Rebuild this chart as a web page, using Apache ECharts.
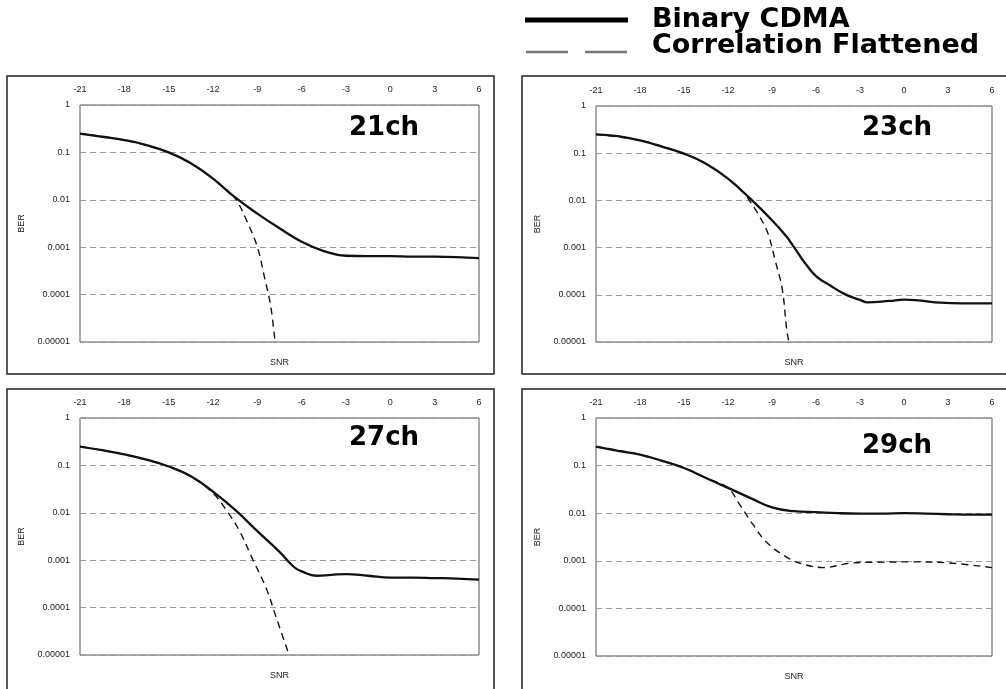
<!DOCTYPE html>
<html>
<head>
<meta charset="utf-8">
<title>BER vs SNR</title>
<script src="https://cdn.jsdelivr.net/npm/echarts@6/dist/echarts.min.js"></script>
<style>
  html, body { margin: 0; padding: 0; background: #fff; }
  #main { width: 1006px; height: 689px; }
</style>
</head>
<body>
<div id="main"></div>
<script>
// tick labels
var snrMin = -21, snrMax = 6, snrStep = 3;
var berTicks = ['0.00001', '0.0001', '0.001', '0.01', '0.1', '1'];
var panelNames = ['21ch', '23ch', '27ch', '29ch'];
var seriesNames = ['Binary CDMA', 'Correlation Flattened'];

// 21ch
var snr21 = [-21, -19.5, -18, -16.5, -15, -13.5, -12, -10.5, -9, -7.5, -6, -4.5, -3, -1.5, 0, 1.5, 3, 4.5, 6];
var ber21 = [0.25, 0.214, 0.182, 0.143, 0.1, 0.059, 0.028, 0.0112, 0.0051, 0.0025, 0.0013, 0.00083, 0.00066, 0.00065, 0.00065, 0.00063, 0.00063, 0.00062, 0.00059];
var snr21f = [-21, -18, -15, -13.5, -12, -11.5, -10.5, -9.7, -9.0, -8.5, -8.1, -7.8];
var ber21f = [0.25, 0.182, 0.1, 0.059, 0.028, 0.0204, 0.0107, 0.0035, 0.00102, 0.00022, 0.000059, 0.00001];

// 23ch
var snr23 = [-21, -19.5, -18, -16.5, -15, -13.5, -12, -10.5, -9, -8, -7.5, -6.7, -6, -5, -4, -3, -2.5, -1, 0, 1, 2.5, 4, 6];
var ber23 = [0.25, 0.229, 0.186, 0.138, 0.098, 0.06, 0.0288, 0.011, 0.0038, 0.0017, 0.00102, 0.00045, 0.00025, 0.000155, 0.000102, 0.000078, 0.000069, 0.000074, 0.000079, 0.000076, 0.000068, 0.000066, 0.000066];
var snr23f = [-21, -18, -15, -13.5, -12, -11, -10.7, -10.0, -9.3, -8.8, -8.3, -8.0, -7.85];
var ber23f = [0.25, 0.186, 0.098, 0.06, 0.0288, 0.0151, 0.0117, 0.0055, 0.0021, 0.00056, 0.000132, 0.0000186, 0.00001];

// 27ch
var snr27 = [-21, -19.5, -18, -16.5, -15, -13.5, -12, -10.5, -9, -7.5, -6.5, -6, -5, -4, -3, -1.5, 0, 1.5, 3, 4.5, 6];
var ber27 = [0.25, 0.209, 0.17, 0.132, 0.095, 0.059, 0.028, 0.0115, 0.0041, 0.0015, 0.00071, 0.00058, 0.00047, 0.00049, 0.00051, 0.00047, 0.00043, 0.00043, 0.00042, 0.00041, 0.00039];
var snr27f = [-21, -18, -15, -13.5, -12, -11.1, -10.2, -9.3, -8.4, -7.7, -6.85];
var ber27f = [0.25, 0.17, 0.095, 0.059, 0.026, 0.0115, 0.0041, 0.00102, 0.000257, 0.000059, 0.00001];

// 29ch
var snr29 = [-21, -19.5, -18, -16.5, -15, -13.5, -12, -10.5, -9, -7.5, -6, -4.5, -3, -1.5, 0, 1.5, 3, 4.5, 6];
var ber29 = [0.25, 0.204, 0.17, 0.126, 0.089, 0.055, 0.034, 0.021, 0.0132, 0.011, 0.0105, 0.01, 0.0098, 0.0098, 0.01, 0.0098, 0.0095, 0.0093, 0.0093];
var snr29f = [-21, -18, -15, -13.5, -12, -11.2, -10.3, -9.4, -8.2, -7.1, -5.5, -3.7, -2.1, 0.8, 3.3, 6];
var ber29f = [0.25, 0.17, 0.089, 0.055, 0.034, 0.0151, 0.0058, 0.0025, 0.0013, 0.00089, 0.00072, 0.00089, 0.00093, 0.00095, 0.00089, 0.00072];

var curves = [
  [snr21, ber21, snr21f, ber21f],
  [snr23, ber23, snr23f, ber23f],
  [snr27, ber27, snr27f, ber27f],
  [snr29, ber29, snr29f, ber29f]
];

function zip(xs, ys) {
  var out = [];
  for (var i = 0; i < xs.length; i++) out.push([xs[i], ys[i]]);
  return out;
}

// plot areas and outer frames, in px
var grids = [
  { left: 80, top: 105, width: 399, height: 237 },
  { left: 596, top: 106, width: 396, height: 236 },
  { left: 80, top: 418, width: 399, height: 237 },
  { left: 596, top: 418, width: 396, height: 238 }
];
var frames = [
  { x: 7, y: 76, width: 487, height: 298 },
  { x: 522, y: 76, width: 500, height: 298 },
  { x: 7, y: 389, width: 487, height: 320 },
  { x: 522, y: 389, width: 500, height: 320 }
];
var titlePos = [[349, 128], [862, 128], [349, 438], [862, 446]];

var font = '"Liberation Sans", Arial, sans-serif';
var boldFont = '"DejaVu Sans", Verdana, sans-serif';

var option = {
  animation: false,
  backgroundColor: '#fff',
  grid: [],
  xAxis: [],
  yAxis: [],
  series: [],
  graphic: []
};

for (var p = 0; p < 4; p++) {
  option.grid.push({
    left: grids[p].left, top: grids[p].top,
    width: grids[p].width, height: grids[p].height,
    show: true, borderColor: '#555', borderWidth: 1
  });
  // tick axis on top
  option.xAxis.push({
    gridIndex: p, type: 'value', position: 'top',
    min: snrMin, max: snrMax, interval: snrStep,
    axisLine: { show: false }, axisTick: { show: false }, splitLine: { show: false },
    axisLabel: { fontSize: 9, color: '#222', margin: 11, fontFamily: font }
  });
  // bottom axis only carries the SNR name
  option.xAxis.push({
    gridIndex: p, type: 'value', position: 'bottom',
    min: snrMin, max: snrMax,
    name: 'SNR', nameLocation: 'middle', nameGap: 16,
    nameTextStyle: { fontSize: 9, color: '#222', fontFamily: font },
    axisLine: { show: false }, axisTick: { show: false }, splitLine: { show: false },
    axisLabel: { show: false }
  });
  option.yAxis.push({
    gridIndex: p, type: 'log', logBase: 10, min: 0.00001, max: 1,
    name: 'BER', nameLocation: 'middle', nameRotate: 90, nameGap: 54,
    nameTextStyle: { fontSize: 9, color: '#222', fontFamily: font },
    axisLine: { show: false }, axisTick: { show: false },
    axisLabel: {
      fontSize: 9, color: '#222', margin: 10, fontFamily: font,
      formatter: function (v) {
        var k = Math.round(Math.log(v) / Math.LN10) + 5;
        return berTicks[k] || '';
      }
    },
    splitLine: { show: true, lineStyle: { color: '#9a9a9a', width: 1, type: [6, 4] } }
  });

  var c = curves[p];
  option.series.push({
    name: seriesNames[0], type: 'line', xAxisIndex: p * 2, yAxisIndex: p,
    data: zip(c[0], c[1]), showSymbol: false, smooth: 0.45, z: 3,
    lineStyle: { color: '#111', width: 2.3 }
  });
  option.series.push({
    name: seriesNames[1], type: 'line', xAxisIndex: p * 2, yAxisIndex: p,
    data: zip(c[2], c[3]), showSymbol: false, smooth: 0.35, z: 2,
    lineStyle: { color: '#111', width: 1.4, type: [7, 5] }
  });

  option.graphic.push({
    type: 'rect', silent: true,
    shape: frames[p],
    style: { fill: 'none', stroke: '#222', lineWidth: 1.5 }
  });
  option.graphic.push({
    type: 'text', x: titlePos[p][0], y: titlePos[p][1],
    style: {
      text: panelNames[p], fill: '#000', font: 'bold 26px ' + boldFont,
      textVerticalAlign: 'middle'
    }
  });
}

// legend drawn by hand, above the right column
option.graphic.push(
  { type: 'line', shape: { x1: 525, y1: 20, x2: 628, y2: 20 }, style: { stroke: '#000', lineWidth: 5 } },
  { type: 'line', shape: { x1: 526, y1: 52, x2: 628, y2: 52 }, style: { stroke: '#777', lineWidth: 2.5, lineDash: [42, 17] } },
  { type: 'text', x: 652, y: 20, style: { text: seriesNames[0], fill: '#000', font: 'bold 27px ' + boldFont, textVerticalAlign: 'middle' } },
  { type: 'text', x: 652, y: 46, style: { text: seriesNames[1], fill: '#000', font: 'bold 27px ' + boldFont, textVerticalAlign: 'middle' } }
);

var myChart = echarts.init(document.getElementById('main'));
myChart.setOption(option);
</script>
</body>
</html>
